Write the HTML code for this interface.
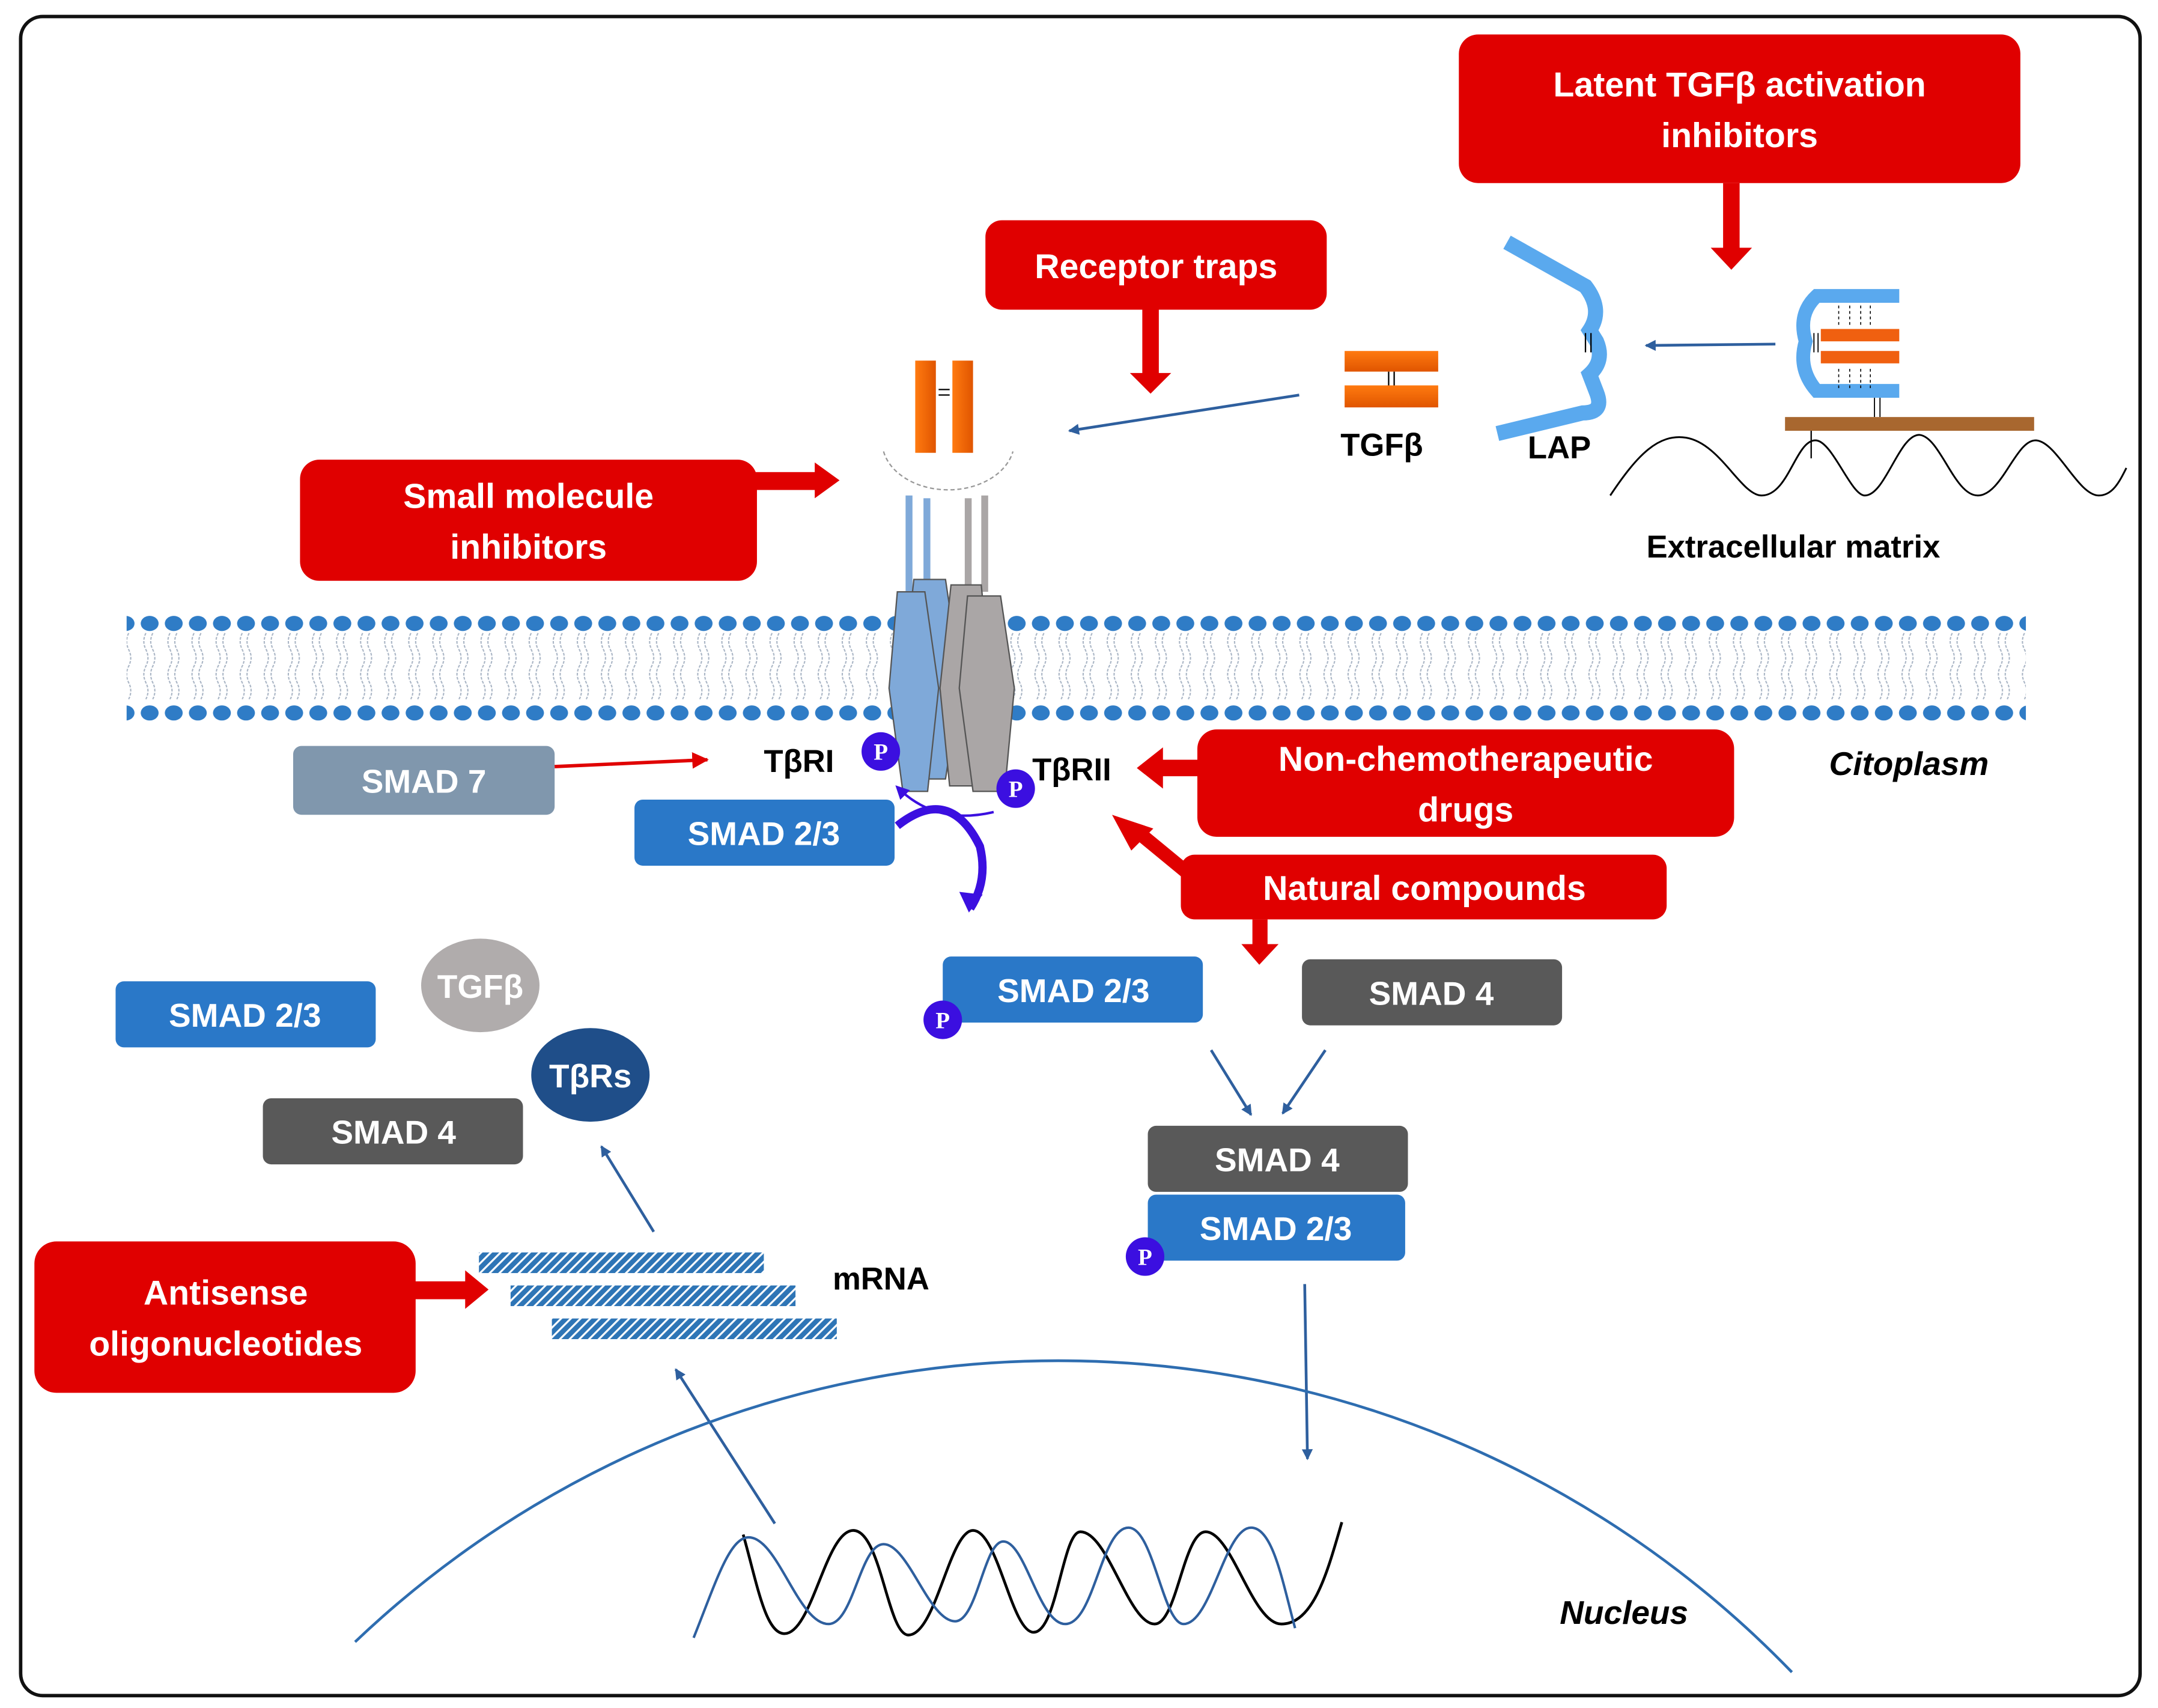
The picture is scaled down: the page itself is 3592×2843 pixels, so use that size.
<!DOCTYPE html>
<html><head><meta charset="utf-8"><style>
html,body{margin:0;padding:0;background:#fff;}
svg{display:block;}
text{font-family:"Liberation Sans",sans-serif;font-weight:bold;}
</style></head><body>
<svg width="3592" height="2843" viewBox="0 0 1568 1241" xmlns="http://www.w3.org/2000/svg">
<defs>
<pattern id="heads" x="100" y="0" width="17.5" height="1241" patternUnits="userSpaceOnUse">
<ellipse cx="8.75" cy="453" rx="6.5" ry="5.5" fill="#2f7cc6"/>
<ellipse cx="8.75" cy="518" rx="6.5" ry="5.5" fill="#2f7cc6"/>
<path d="M6 460 q-3 6 0 12 q3 6 0 12 q-3 6 0 12 q3 6 0 12 M11 460 q-3 6 0 12 q3 6 0 12 q-3 6 0 12 q3 6 0 12" fill="none" stroke="#a8b4c4" stroke-width="0.9" stroke-dasharray="2 1"/>
</pattern>
<pattern id="hatch" width="5" height="5" patternUnits="userSpaceOnUse" patternTransform="rotate(45)">
<rect width="5" height="5" fill="#2e75b6"/>
<rect width="1.4" height="5" fill="#fff"/>
</pattern>
<linearGradient id="or" x1="0" x2="1"><stop offset="0" stop-color="#ff7a10"/><stop offset="1" stop-color="#e05500"/></linearGradient>
<linearGradient id="orv" x1="0" y1="0" x2="0" y2="1"><stop offset="0" stop-color="#ff7a10"/><stop offset="1" stop-color="#e05500"/></linearGradient>
<marker id="ab" markerWidth="8" markerHeight="8" refX="7" refY="4" orient="auto" markerUnits="userSpaceOnUse"><path d="M0 0 L8 4 L0 8 Z" fill="#2e5f9e"/></marker>
<marker id="ar" markerWidth="12" markerHeight="12" refX="11" refY="6" orient="auto" markerUnits="userSpaceOnUse"><path d="M0 0 L12 6 L0 12 Z" fill="#e00000"/></marker>
<marker id="ap" markerWidth="10" markerHeight="10" refX="8" refY="5" orient="auto" markerUnits="userSpaceOnUse"><path d="M0 0 L10 5 L0 10 Z" fill="#3b0fe0"/></marker>
</defs>

<rect x="15" y="12" width="1540" height="1220" rx="16" fill="#fff" stroke="#111" stroke-width="2.5"/>

<rect x="92" y="440" width="1380" height="90" fill="url(#heads)"/>

<g fill="#e00000">
<rect x="1060" y="25" width="408" height="108" rx="14"/>
<rect x="1252" y="133" width="12" height="48"/><path d="M1243 180 L1273 180 L1258 196 Z"/>
<rect x="716" y="160" width="248" height="65" rx="12"/>
<rect x="830" y="225" width="12" height="48"/><path d="M821 271 L851 271 L836 286 Z"/>
<rect x="218" y="334" width="332" height="88" rx="14"/>
<rect x="548" y="343" width="45" height="13"/><path d="M592 336 L610 349 L592 362 Z"/>
<rect x="870" y="530" width="390" height="78" rx="14"/>
<rect x="843" y="552" width="30" height="12"/><path d="M845 543 L826 558 L845 573 Z"/>
<rect x="858" y="621" width="353" height="47" rx="10"/>
<path d="M862 640 L828 612 L834 604 L868 632 Z"/><path d="M822 618 L808 592 L838 602 Z"/>
<rect x="910" y="668" width="11" height="20"/><path d="M902 686 L929 686 L915 701 Z"/>
<rect x="25" y="902" width="277" height="110" rx="16"/>
<rect x="300" y="931" width="40" height="13"/><path d="M338 923 L355 937 L338 951 Z"/>
</g>
<g fill="#fff" font-size="25" text-anchor="middle">
<text x="1264" y="70">Latent TGFβ activation</text>
<text x="1264" y="107">inhibitors</text>
<text x="840" y="202">Receptor traps</text>
<text x="384" y="369">Small molecule</text>
<text x="384" y="406">inhibitors</text>
<text x="1065" y="560">Non-chemotherapeutic</text>
<text x="1065" y="597">drugs</text>
<text x="1035" y="654">Natural compounds</text>
<text x="164" y="948">Antisense</text>
<text x="164" y="985">oligonucleotides</text>
</g>

<rect x="665" y="262" width="15" height="67" fill="url(#or)"/>
<rect x="692" y="262" width="15" height="67" fill="url(#or)"/>
<path d="M682 283 h8 M682 287 h8" stroke="#000" stroke-width="1"/>
<path d="M642 328 A48 35 0 0 0 736 328" fill="none" stroke="#999" stroke-width="1" stroke-dasharray="3 2"/>
<rect x="658" y="360" width="5" height="70" fill="#7fa9d9"/>
<rect x="671" y="362" width="5" height="68" fill="#7fa9d9"/>
<rect x="701" y="362" width="5" height="68" fill="#aaa6a6"/>
<rect x="713" y="360" width="5" height="70" fill="#aaa6a6"/>
<path d="M664 421 L687 421 L698 495 L687 566 L664 566 L656 495 Z" fill="#7fa9d9" stroke="#555" stroke-width="1"/>
<path d="M652 430 L672 430 L682 500 L674 575 L656 575 L646 500 Z" fill="#7fa9d9" stroke="#555" stroke-width="1"/>
<path d="M691 425 L713 425 L720 500 L713 571 L690 571 L683 500 Z" fill="#aaa6a6" stroke="#555" stroke-width="1"/>
<path d="M703 433 L727 433 L737 500 L730 575 L707 575 L697 500 Z" fill="#aaa6a6" stroke="#555" stroke-width="1"/>

<g font-size="23" fill="#000">
<text x="555" y="561">TβRI</text>
<text x="750" y="567">TβRII</text>
</g>
<path d="M722 590 Q680 600 652 572" fill="none" stroke="#3b0fe0" stroke-width="1.8" marker-end="url(#ap)"/>
<path d="M652 600 Q690 570 712 615 Q718 640 705 660" fill="none" stroke="#3b0fe0" stroke-width="6"/>
<path d="M697 648 L704 663 L714 650 Z" fill="#3b0fe0"/>

<rect x="213" y="542" width="190" height="50" rx="6" fill="#8097ad"/>
<rect x="461" y="581" width="189" height="48" rx="6" fill="#2a78c8"/>
<rect x="685" y="695" width="189" height="48" rx="6" fill="#2a78c8"/>
<rect x="946" y="697" width="189" height="48" rx="6" fill="#595959"/>
<rect x="834" y="818" width="189" height="48" rx="6" fill="#595959"/>
<rect x="834" y="868" width="187" height="48" rx="6" fill="#2a78c8"/>
<rect x="84" y="713" width="189" height="48" rx="6" fill="#2a78c8"/>
<rect x="191" y="798" width="189" height="48" rx="6" fill="#595959"/>
<ellipse cx="349" cy="716" rx="43" ry="34" fill="#b0acac"/>
<ellipse cx="429" cy="781" rx="43" ry="34" fill="#1f4e89"/>
<g fill="#fff" font-size="24" text-anchor="middle">
<text x="308" y="576">SMAD 7</text>
<text x="555" y="614">SMAD 2/3</text>
<text x="780" y="728">SMAD 2/3</text>
<text x="1040" y="730">SMAD 4</text>
<text x="928" y="851">SMAD 4</text>
<text x="927" y="901">SMAD 2/3</text>
<text x="178" y="746">SMAD 2/3</text>
<text x="286" y="831">SMAD 4</text>
<text x="349" y="725">TGFβ</text>
<text x="429" y="790">TβRs</text>
</g>

<g fill="#3b0fe0">
<ellipse cx="640" cy="546" rx="14" ry="14"/>
<ellipse cx="738" cy="573" rx="14" ry="14"/>
<ellipse cx="685" cy="741" rx="14" ry="14"/>
<ellipse cx="832" cy="913" rx="14" ry="14"/>
</g>
<g fill="#fff" font-size="17" text-anchor="middle" style="font-family:'Liberation Serif',serif">
<text x="640" y="552" style="font-family:'Liberation Serif',serif">P</text>
<text x="738" y="579" style="font-family:'Liberation Serif',serif">P</text>
<text x="685" y="747" style="font-family:'Liberation Serif',serif">P</text>
<text x="832" y="919" style="font-family:'Liberation Serif',serif">P</text>
</g>

<path d="M403 557 L514 552" stroke="#e00000" stroke-width="2.5" marker-end="url(#ar)"/>

<g stroke="#2e5f9e" stroke-width="2" fill="none" marker-end="url(#ab)">
<path d="M944 287 L777 313"/>
<path d="M1290 250 L1196 251"/>
<path d="M880 763 L909 810"/>
<path d="M963 763 L932 809"/>
<path d="M948 933 L950 1060"/>
<path d="M475 895 L437 833"/>
<path d="M563 1107 L491 995"/>
</g>

<rect x="977" y="255" width="68" height="15" fill="url(#orv)"/>
<rect x="977" y="280" width="68" height="16" fill="url(#orv)"/>
<path d="M1009 270 v10 M1013 270 v10" stroke="#000" stroke-width="1"/>
<g font-size="23" fill="#000" text-anchor="middle">
<text x="1004" y="331">TGFβ</text>
<text x="1133" y="333">LAP</text>
<text x="1303" y="405">Extracellular matrix</text>
</g>
<path d="M1095 176 L1152 208 Q1165 225 1155 240 L1160 248 Q1166 262 1155 272 L1160 285 Q1166 300 1150 300 L1088 315" fill="none" stroke="#5aa9ee" stroke-width="11"/>
<path d="M1152 242 v14 M1156 242 v14" stroke="#000" stroke-width="1"/>
<path d="M1380 215 H1320 Q1306 228 1312 248 Q1306 268 1320 284 H1380" fill="none" stroke="#5aa9ee" stroke-width="10"/>
<rect x="1323" y="239" width="57" height="9" fill="#f06010"/>
<rect x="1323" y="255" width="57" height="9" fill="#f06010"/>
<path d="M1336 222 v14 M1344 222 v14 M1352 222 v14 M1359 222 v14 M1336 268 v14 M1344 268 v14 M1352 268 v14 M1359 268 v14" stroke="#000" stroke-width="0.7" stroke-dasharray="2 2"/>
<path d="M1362 289 v14 M1366 289 v14 M1318 242 v14 M1321 242 v14" stroke="#000" stroke-width="0.8"/>
<rect x="1297" y="303" width="181" height="10" fill="#a8672f"/>
<path d="M1316 313 v20" stroke="#000" stroke-width="1"/>
<path d="M1170 360 C1190 330 1205 315 1225 318 C1250 322 1265 360 1280 360 C1300 360 1305 318 1320 320 C1332 322 1345 360 1355 360 C1370 360 1380 315 1395 316 C1410 318 1420 360 1437 360 C1455 360 1465 318 1480 320 C1495 322 1510 360 1525 360 C1535 360 1540 350 1545 340" fill="none" stroke="#000" stroke-width="1.3"/>

<rect x="348" y="910" width="207" height="15" fill="url(#hatch)"/>
<rect x="371" y="934" width="207" height="15" fill="url(#hatch)"/>
<rect x="401" y="958" width="207" height="15" fill="url(#hatch)"/>
<text x="605" y="937" font-size="23" fill="#000">mRNA</text>

<path d="M258 1193 A741 741 0 0 1 1302 1215" fill="none" stroke="#2e6db0" stroke-width="2"/>
<path d="M540 1115 C550 1150 556 1187 570 1187 C590 1187 600 1112 620 1112 C640 1112 645 1188 660 1188 C680 1188 690 1112 707 1112 C725 1112 735 1186 751 1186 C768 1186 772 1113 785 1113 C805 1113 820 1180 839 1180 C855 1180 860 1113 876 1113 C895 1113 910 1180 931 1180 C955 1180 965 1140 975 1106" fill="none" stroke="#000" stroke-width="2"/>
<path d="M504 1190 C520 1150 530 1117 544 1117 C565 1117 580 1180 602 1180 C620 1180 625 1122 642 1122 C660 1122 675 1178 694 1178 C710 1178 715 1120 729 1120 C745 1120 755 1180 774 1180 C795 1180 800 1110 820 1110 C838 1110 845 1180 860 1180 C880 1180 890 1110 909 1110 C925 1110 932 1150 941 1183" fill="none" stroke="#2e5f9e" stroke-width="1.8"/>

<g font-size="24" font-style="italic" fill="#000" text-anchor="middle">
<text x="1387" y="563">Citoplasm</text>
<text x="1180" y="1180">Nucleus</text>
</g>
</svg>
</body></html>
